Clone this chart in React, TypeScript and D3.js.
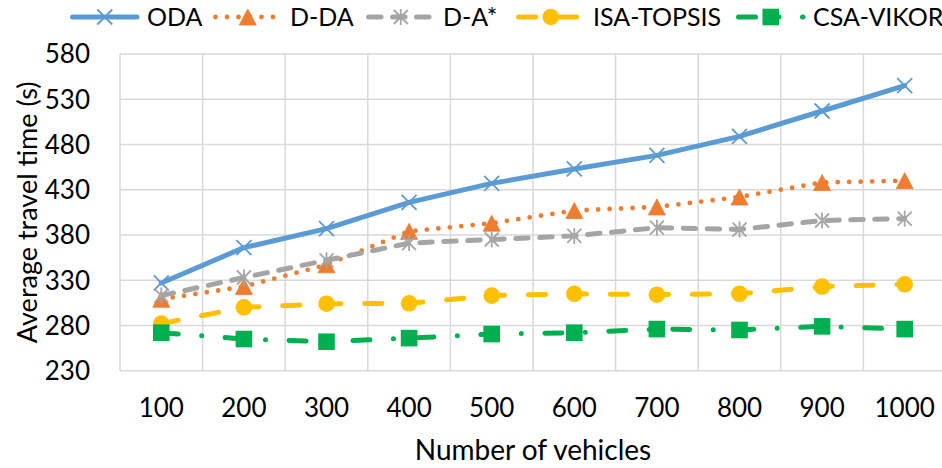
import React, { useEffect, useRef } from 'react';
import * as d3 from 'd3';

const categories = ['100', '200', '300', '400', '500', '600', '700', '800', '900', '1000'];
const odaValues = [327, 366, 387, 416, 437, 453, 468, 489, 517, 545];
const ddaValues = [309, 323, 347, 384, 393, 407, 411, 422, 438, 440];
const daStarValues = [313, 333, 352, 371, 375, 379, 388, 386, 396, 398];
const isaTopsisValues = [282, 300, 304, 304.5, 313, 315, 314, 315, 323, 325.5];
const csaVikorValues = [272, 265, 262, 266, 270.5, 272, 276, 275, 279, 276];
const yTicks = [230, 280, 330, 380, 430, 480, 530, 580];
const seriesNames = ['ODA', 'D-DA', 'D-A*', 'ISA-TOPSIS', 'CSA-VIKOR'];

type Style = { color: string; width: number; dash: string | null; marker: string };
const styles: Style[] = [
  { color: '#5B9BD5', width: 5, dash: null, marker: 'x' },
  { color: '#ED7D31', width: 4.8, dash: '0 11.5', marker: 'triangle' },
  { color: '#A5A5A5', width: 5, dash: '12.5 11.5', marker: 'star' },
  { color: '#FFC000', width: 5, dash: '17.3 23.7', marker: 'circle' },
  { color: '#00B050', width: 5, dash: '17 23.5 0 23.5', marker: 'square' },
];

const FONT = 'Lato, "Open Sans", sans-serif';

function drawMarker(g: any, type: string, cx: number, cy: number, color: string) {
  if (type === 'x') {
    const s = 7.5;
    g.append('path')
      .attr('d', `M${cx - s},${cy - s}L${cx + s},${cy + s}M${cx - s},${cy + s}L${cx + s},${cy - s}`)
      .attr('stroke', color).attr('stroke-width', 1.8).attr('fill', 'none');
  } else if (type === 'triangle') {
    const w = 8.5, h = 8;
    g.append('path')
      .attr('d', `M${cx},${cy - h}L${cx + w},${cy + h}L${cx - w},${cy + h}Z`)
      .attr('fill', color).attr('stroke', color).attr('stroke-width', 0.8);
  } else if (type === 'star') {
    const s = 7;
    g.append('path')
      .attr('d', `M${cx - s},${cy - s}L${cx + s},${cy + s}M${cx - s},${cy + s}L${cx + s},${cy - s}M${cx},${cy - s - 1}L${cx},${cy + s + 1}`)
      .attr('stroke', color).attr('stroke-width', 1.8).attr('fill', 'none');
  } else if (type === 'circle') {
    g.append('circle').attr('cx', cx).attr('cy', cy).attr('r', 8.3).attr('fill', color);
  } else if (type === 'square') {
    const s = 8.3;
    g.append('rect').attr('x', cx - s).attr('y', cy - s).attr('width', 2 * s).attr('height', 2 * s).attr('fill', color);
  }
}

export default function App() {
  const ref = useRef<SVGSVGElement>(null);

  useEffect(() => {
    const svg = d3.select(ref.current);
    svg.selectAll('*').remove();
    const allValues = [odaValues, ddaValues, daStarValues, isaTopsisValues, csaVikorValues];

    const left = 120, right = 946, top = 54, bottom = 370.7;
    const x = d3.scaleBand<string>().domain(categories).range([left, right]);
    const y = d3.scaleLinear().domain([230, 580]).range([bottom, top]);

    const grid = svg.append('g');
    yTicks.forEach((t) => {
      grid.append('line').attr('x1', left).attr('x2', right).attr('y1', y(t)).attr('y2', y(t))
        .attr('stroke', '#D9D9D9').attr('stroke-width', 1.5);
    });
    const bounds = categories.map((c) => x(c) as number).concat([right]);
    bounds.forEach((b) => {
      grid.append('line').attr('x1', b).attr('x2', b).attr('y1', top).attr('y2', bottom)
        .attr('stroke', '#D9D9D9').attr('stroke-width', 1.5);
    });

    // y tick labels
    svg.append('g').selectAll('text').data(yTicks).enter().append('text')
      .attr('x', 90).attr('y', (d) => y(d)).attr('dy', '0.36em')
      .attr('text-anchor', 'end').attr('font-family', FONT).attr('font-size', 26).attr('fill', '#000')
      .text((d) => String(d));

    // x tick labels
    svg.append('g').selectAll('text').data(categories).enter().append('text')
      .attr('x', (d) => (x(d) as number) + x.bandwidth() / 2).attr('y', 416.5)
      .attr('text-anchor', 'middle').attr('font-family', FONT).attr('font-size', 26).attr('fill', '#000')
      .text((d) => d);

    // axis titles
    svg.append('text').attr('transform', `translate(36.5,${(top + bottom) / 2}) rotate(-90)`)
      .attr('text-anchor', 'middle').attr('font-family', FONT).attr('font-size', 27).attr('fill', '#000')
      .text('Average travel time (s)');
    svg.append('text').attr('x', (left + right) / 2).attr('y', 460)
      .attr('text-anchor', 'middle').attr('font-family', FONT).attr('font-size', 28).attr('fill', '#000')
      .text('Number of vehicles');

    // series
    const line = d3.line<[number, number]>().x((d) => d[0]).y((d) => d[1]);
    allValues.forEach((vals, i) => {
      const st = styles[i];
      const g = svg.append('g');
      const pts: [number, number][] = vals.map((v, j) => [(x(categories[j]) as number) + x.bandwidth() / 2, y(v)]);
      const p = g.append('path').attr('d', line(pts)).attr('fill', 'none')
        .attr('stroke', st.color).attr('stroke-width', st.width)
        .attr('stroke-linecap', 'round').attr('stroke-linejoin', 'round');
      if (st.dash) p.attr('stroke-dasharray', st.dash);
      pts.forEach((pt) => drawMarker(g, st.marker, pt[0], pt[1], st.color));
    });

    // legend
    const legendX = [70, 213, 366, 516, 736];
    const ly = 17;
    seriesNames.forEach((name, i) => {
      const st = styles[i];
      const g = svg.append('g');
      const x0 = legendX[i] + 2.5, x1 = legendX[i] + 67;
      const p = g.append('path').attr('d', `M${x0},${ly}L${x1},${ly}`).attr('fill', 'none')
        .attr('stroke', st.color).attr('stroke-width', st.width).attr('stroke-linecap', 'round');
      if (st.dash) p.attr('stroke-dasharray', st.dash);
      drawMarker(g, st.marker, (x0 + x1) / 2, ly, st.color);
      g.append('text').attr('x', legendX[i] + 77).attr('y', ly).attr('dy', '0.36em')
        .attr('font-family', FONT).attr('font-size', 25).attr('fill', '#000').text(name);
    });
  }, []);

  return (
    <svg ref={ref} width={942} height={468}
      style={{ position: 'absolute', left: 0, top: 0, background: '#fff' }} />
  );
}
